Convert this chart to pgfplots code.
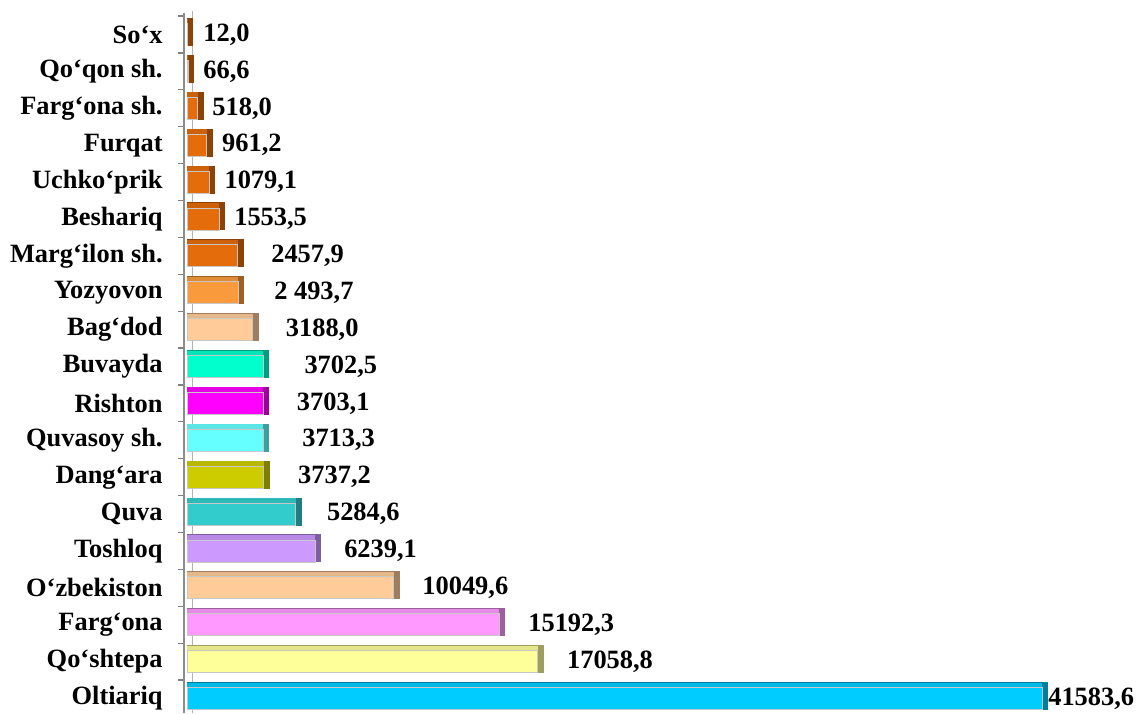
\documentclass[border=0pt]{standalone}
\usepackage{fontspec}
\setmainfont{Liberation Serif}
\usepackage{pgfplots}
\pgfplotsset{compat=1.18}
\definecolor{cOr}{HTML}{E46C0A}
\definecolor{cYo}{HTML}{F99B3C}
\definecolor{cPe}{HTML}{FFCC99}
\definecolor{cAq}{HTML}{00FFCC}
\definecolor{cMa}{HTML}{FF00FF}
\definecolor{cLc}{HTML}{66FFFF}
\definecolor{cOl}{HTML}{CCCC00}
\definecolor{cTe}{HTML}{33CCCC}
\definecolor{cLa}{HTML}{CC99FF}
\definecolor{cPi}{HTML}{FF99FF}
\definecolor{cLy}{HTML}{FFFF99}
\definecolor{cSk}{HTML}{00CCFF}
\newcommand\lab{\bfseries\fontsize{13.2}{15}\selectfont}
\newcommand\tbar[5]{%
 \addplot[xbar, bar width=11pt, bar shift=0pt, fill=#3, draw=black!22, line width=0.4pt,
   preaction={fill=#3!62!black, draw=#3!62!black, line width=3pt, line join=miter,
              transform canvas={shift={(1.5pt,1.25pt)}}},
   preaction={fill=#3!90!black, draw=none, transform canvas={shift={(0pt,2.5pt)}}},
   nodes near coords={#4},
   every node near coord/.style={anchor=west, inner sep=0pt, xshift=#5, font=\lab, text=black}]
   coordinates {(#2,#1)};}
\begin{document}
\begin{tikzpicture}
\useasboundingbox (0,0) rectangle (569pt,356.5pt);
\begin{axis}[name=ax, at={(92pt,0pt)}, anchor=south west, scale only axis,
 width=477pt, height=350pt,
 xmin=-146, xmax=46257, ymin=-0.393, ymax=18.583,
 axis y line*=left, axis x line=none, xtick=\empty,
 y axis line style={black!45, line width=1pt},
 ytick={0,...,18},
 yticklabels={Oltiariq, Qo‘shtepa, Farg‘ona, O‘zbekiston, Toshloq, Quva, Dang‘ara, Quvasoy sh., Rishton, Buvayda, Bag‘dod, Yozyovon, Marg‘ilon sh., Beshariq, Uchko‘prik, Furqat, Farg‘ona sh., Qo‘qon sh., So‘x},
 major tick length=0pt,
 minor ytick={0.5,1.5,...,18.5}, minor tick length=3pt, tick align=outside,
 minor tick style={black!50, line width=0.6pt},
 yticklabel style={font=\lab, anchor=east, inner sep=0pt, xshift=-10.5pt},
 clip=false]
\draw[black!30, line width=0.5pt] ([xshift=4pt]rel axis cs:0,0) -- ([xshift=4pt,yshift=1pt]rel axis cs:0,1);
\tbar{0}{41583.6}{cSk}{41583,6}{3pt}
\tbar{1}{17058.8}{cLy}{17058,8}{14.5pt}
\tbar{2}{15192.3}{cPi}{15192,3}{14.3pt}
\tbar{3}{10049.6}{cPe}{10049,6}{14.2pt}
\tbar{4}{6239.1}{cLa}{6239,1}{14.3pt}
\tbar{5}{5284.6}{cTe}{5284,6}{15.5pt}
\tbar{6}{3737.2}{cOl}{3737,2}{17pt}
\tbar{7}{3713.3}{cLc}{3713,3}{19.3pt}
\tbar{8}{3703.1}{cMa}{3703,1}{16.7pt}
\tbar{9}{3702.5}{cAq}{3702,5}{20.5pt}
\tbar{10}{3188.0}{cPe}{3188,0}{16.5pt}
\tbar{11}{2493.7}{cYo}{2 493,7}{17.8pt}
\tbar{12}{2457.9}{cOr}{2457,9}{16.7pt}
\tbar{13}{1553.5}{cOr}{1553,5}{7.5pt}
\tbar{14}{1079.1}{cOr}{1079,1}{7.5pt}
\tbar{15}{961.2}{cOr}{961,2}{7.5pt}
\tbar{16}{518.0}{cOr}{518,0}{7.2pt}
\tbar{17}{66.6}{cOr}{66,6}{7.3pt}
\tbar{18}{12.0}{cOr}{12,0}{7.9pt}
\end{axis}
\end{tikzpicture}
\end{document}
